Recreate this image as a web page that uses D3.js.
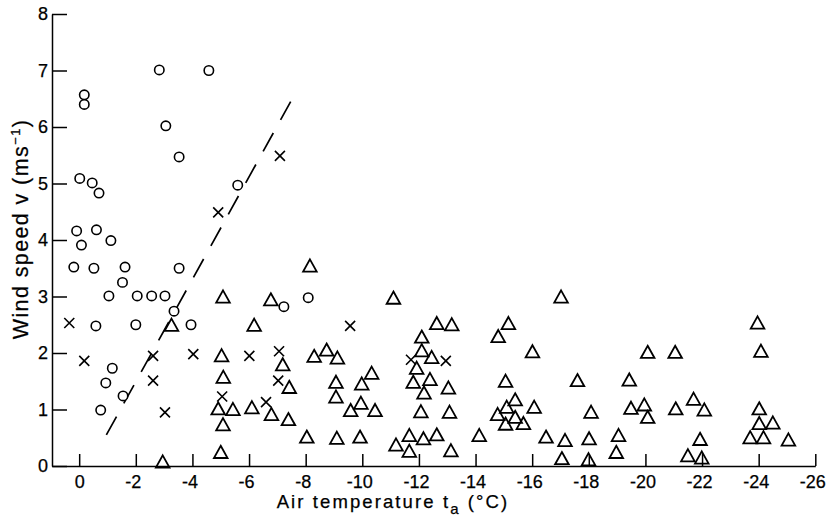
<!DOCTYPE html>
<html>
<head>
<meta charset="utf-8">
<script src="https://cdn.jsdelivr.net/npm/d3@7"></script>
<style>
  html, body { margin: 0; padding: 0; background: #fff; }
  svg { display: block; font-family: "Liberation Sans", Arial, Helvetica, sans-serif; }
</style>
</head>
<body>
<svg id="chart" width="826" height="519"></svg>
<script>
// ---- data (air temperature °C, wind speed m/s) ----
const circles = [
  [-2.83,7.01],[-4.58,7.0],[-0.18,6.57],[-0.18,6.4],[-3.06,6.02],[-3.53,5.47],
  [-0.02,5.09],[-0.46,5.01],[-0.70,4.83],[-5.6,4.97],[0.09,4.16],[-0.08,3.91],
  [-0.61,4.18],[-1.12,3.99],[0.19,3.52],[-0.52,3.5],[-1.62,3.52],[-1.53,3.25],
  [-3.53,3.5],[-1.05,3.01],[-2.05,3.01],[-2.56,3.01],[-3.03,3.01],[-3.35,2.74],
  [-0.59,2.48],[-2.0,2.5],[-3.95,2.5],[-1.17,1.73],[-0.94,1.47],[-1.55,1.24],
  [-0.76,0.99],[-7.23,2.82],[-8.09,2.98]
];
const crosses = [
  [-7.09,5.49],[-4.91,4.49],[0.35,2.53],[-0.18,1.86],[-2.61,1.95],[-2.61,1.51],
  [-3.03,0.95],[-4.03,1.98],[-6.01,1.95],[-7.06,2.03],[-7.03,1.51],[-5.05,1.23],
  [-6.6,1.13],[-9.57,2.48],[-11.72,1.88],[-12.95,1.86]
];
const triangles = [
  [-2.95,0.08],[-3.26,2.5],[-5.08,3.0],[-5.03,1.96],[-5.09,1.58],[-4.91,1.02],
  [-5.43,1.01],[-5.08,0.74],[-5.0,0.25],[-6.1,1.04],[-6.18,2.5],[-6.77,2.95],
  [-7.19,1.8],[-7.42,1.4],[-6.79,0.92],[-7.39,0.83],
  [-8.15,3.55],[-8.04,0.52],[-8.3,1.95],[-8.74,2.06],[-9.12,1.92],[-9.07,1.49],
  [-9.07,1.23],[-9.1,0.5],[-9.59,0.99],[-9.98,1.46],[-9.95,1.12],[-10.33,1.65],
  [-10.45,0.99],[-9.92,0.52],[-11.1,2.98],[-11.19,0.38],[-11.66,0.55],[-11.66,0.27],
  [-12.16,0.49],[-12.63,0.56],[-13.13,0.28],[-12.07,0.97],[-13.08,0.96],[-11.8,1.49],
  [-12.18,1.3],[-12.39,1.54],[-13.04,1.39],[-11.92,1.74],[-12.1,2.05],[-12.45,1.93],
  [-12.1,2.29],[-12.63,2.53],[-13.16,2.51],
  [-14.13,0.55],[-14.8,2.3],[-15.16,2.53],[-15.06,1.51],[-15.4,1.18],[-15.1,1.05],
  [-14.78,0.92],[-15.4,0.87],[-15.06,0.75],[-15.69,0.76],[-16.07,1.05],[-16.01,2.03],
  [-16.49,0.52],
  [-17.02,3.0],[-17.6,1.52],[-17.16,0.46],[-17.05,0.14],[-18.08,0.96],[-18.01,0.49],
  [-17.99,0.12],[-19.05,0.55],[-18.97,0.25],[-19.43,1.53],[-19.49,1.03],[-19.96,1.09],
  [-20.08,0.87],[-20.08,2.02],[-21.05,2.02],[-21.07,1.02],[-21.7,1.19],[-22.08,1.0],
  [-21.93,0.48],[-21.5,0.19],[-21.99,0.15],[-23.96,2.54],[-24.08,2.04],[-24.02,1.02],
  [-24.02,0.76],[-24.5,0.77],[-23.7,0.51],[-24.17,0.51],[-25.05,0.47]
];
const dashedLine = [[-0.96,0.55],[-7.47,6.45]];
const xTicks = [0,-2,-4,-6,-8,-10,-12,-14,-16,-18,-20,-22,-24,-26];
const yTicks = [0,1,2,3,4,5,6,7,8];
const xDomain = [0.96, -26];
const yDomain = [0, 8];

// ---- drawing ----
const svg = d3.select("#chart");
const x = d3.scaleLinear().domain(xDomain).range([52, 815.3]);
const y = d3.scaleLinear().domain(yDomain).range([466, 14]);

const fmt = d => (d < 0 ? "-" + Math.abs(d) : String(d));

const yAxis = svg.append("g")
  .attr("transform", "translate(52,0)")
  .call(d3.axisLeft(y).tickValues(yTicks).tickSizeInner(-15).tickSizeOuter(0).tickPadding(4).tickFormat(fmt));
const xAxis = svg.append("g")
  .attr("transform", "translate(0,466)")
  .call(d3.axisBottom(x).tickValues(xTicks).tickSizeInner(-12).tickSizeOuter(0).tickPadding(9).tickFormat(fmt));

[yAxis, xAxis].forEach(g => {
  g.selectAll("path.domain").attr("stroke", "#000").attr("stroke-width", 1.5);
  g.selectAll(".tick line").attr("stroke", "#000").attr("stroke-width", 1.5);
  g.selectAll(".tick text").attr("fill", "#000")
    .attr("stroke", "#000").attr("stroke-width", 0.25)
    .style("font-size", "18px")
    .style("font-family", '"Liberation Sans", Arial, sans-serif');
});
// negative labels: keep the digits over the tick, minus hangs to the left
xAxis.selectAll(".tick text").attr("dx", d => (d < 0 ? -3 : 0));

// dashed line
svg.append("path")
  .datum(dashedLine)
  .attr("d", d3.line().x(d => x(d[0])).y(d => y(d[1])))
  .attr("fill", "none").attr("stroke", "#000").attr("stroke-width", 1.7)
  .attr("stroke-dasharray", "21,15");

const marks = svg.append("g").attr("fill", "none").attr("stroke", "#000");

// circles
marks.selectAll("circle.c").data(circles).join("circle")
  .attr("class", "c")
  .attr("cx", d => x(d[0])).attr("cy", d => y(d[1]))
  .attr("r", 4.7).attr("fill", "#fff").attr("stroke-width", 1.6);

// crosses
const cs = 5;
marks.selectAll("path.x").data(crosses).join("path")
  .attr("class", "x")
  .attr("d", d => {
    const cx = x(d[0]), cy = y(d[1]);
    return `M${cx-cs},${cy-cs}L${cx+cs},${cy+cs}M${cx-cs},${cy+cs}L${cx+cs},${cy-cs}`;
  })
  .attr("stroke-width", 1.6);

// triangles
const tw = 6.8, th = 6.1;
marks.selectAll("path.t").data(triangles).join("path")
  .attr("class", "t")
  .attr("d", d => {
    const cx = x(d[0]), cy = y(d[1]);
    return `M${cx},${cy-th}L${cx+tw},${cy+th}L${cx-tw},${cy+th}Z`;
  })
  .attr("stroke-width", 1.8).attr("stroke-linejoin", "miter");

// axis titles
function centre(textSel, cx) {
  const bb = textSel.node().getBBox();
  textSel.attr("x", cx - (bb.x + bb.width / 2));
}
const yt = svg.append("text")
  .attr("transform", "translate(28,0) rotate(-90)")
  .attr("x", 0).attr("y", 0)
  .attr("fill", "#000").attr("stroke", "#000").attr("stroke-width", 0.25)
  .style("font-size", "21.5px").style("letter-spacing", "1.4px");
yt.append("tspan").text("Wind speed v (ms");
yt.append("tspan").attr("dy", "-8").style("font-size", "13px").text("\u22121");
yt.append("tspan").attr("dy", "8").text(")");
centre(yt, -229);

const xt = svg.append("text")
  .attr("x", 0).attr("y", 508)
  .attr("fill", "#000").attr("stroke", "#000").attr("stroke-width", 0.25)
  .style("font-size", "18.5px").style("letter-spacing", "2.1px");
xt.append("tspan").text("Air temperature t");
xt.append("tspan").attr("dy", "6").style("font-size", "15px").text("a");
xt.append("tspan").attr("dy", "-6").text(" (\u00B0C)");
centre(xt, 393);
</script>
</body>
</html>
